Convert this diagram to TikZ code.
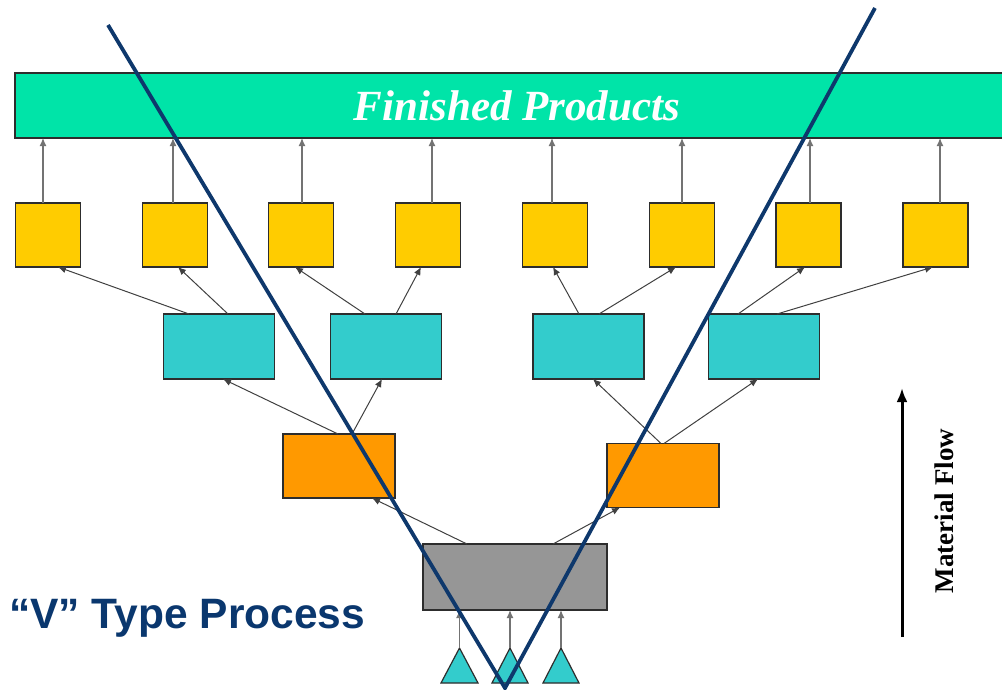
\documentclass[tikz,border=0pt]{standalone}
\usepackage{fontspec}
\setmainfont{Liberation Serif}
\newfontfamily\headsans{Liberation Sans}
\usetikzlibrary{arrows.meta}

\definecolor{barfill}{RGB}{0,228,168}
\definecolor{partyellow}{RGB}{255,204,0}
\definecolor{partcyan}{RGB}{51,204,204}
\definecolor{partorange}{RGB}{255,153,0}
\definecolor{partgray}{RGB}{150,150,150}
\definecolor{vnavy}{RGB}{14,56,108}
\definecolor{textnavy}{RGB}{10,55,110}
\definecolor{edge}{RGB}{45,45,45}

\tikzset{
  box/.style={draw=edge, line width=1.5pt, inner sep=0pt, outer sep=0pt},
  ybox/.style={box, fill=partyellow, minimum width=65, minimum height=64},
  cbox/.style={box, fill=partcyan, minimum width=111, minimum height=65},
  obox/.style={box, fill=partorange, minimum width=112, minimum height=64},
  gbox/.style={box, fill=partgray, minimum width=184, minimum height=66},
  tri/.style={draw=edge, line width=1.2pt, fill=partcyan, line join=miter},
  link/.style={draw=black!75, line width=1pt, -{Latex[length=8pt,width=7pt]}},
  feed/.style={draw=black!55, line width=1.2pt, -{Latex[length=8pt,width=7pt]}},
  vline/.style={draw=vnavy, line width=3.8pt},
}

\begin{document}
\begin{tikzpicture}[x=1pt, y=-1pt]
\useasboundingbox (0,0) rectangle (1002,689);
\clip (0,0) rectangle (1002,689);

% finished products bar
\node[box, fill=barfill, minimum width=1010, minimum height=65, anchor=north west] (bar) at (15,73) {};
\node[text=white, font=\fontsize{43}{48}\selectfont\bfseries\itshape] (title) at (517,106) {Finished Products};

% end items
\node[ybox] (y1) at (48,235) {};
\node[ybox] (y2) at (175,235) {};
\node[ybox] (y3) at (301,235) {};
\node[ybox] (y4) at (428,235) {};
\node[ybox] (y5) at (555,235) {};
\node[ybox] (y6) at (682,235) {};
\node[ybox] (y7) at (808.5,235) {};
\node[ybox] (y8) at (935.5,235) {};

% sub-assemblies
\node[cbox] (cA) at (219,346.5) {};
\node[cbox] (cB) at (386,346.5) {};
\node[cbox] (cC) at (588.5,346.5) {};
\node[cbox] (cD) at (764,346.5) {};

% intermediate parts
\node[obox] (oL) at (339,466) {};
\node[obox] (oR) at (663,475.5) {};

% common base part
\node[gbox] (g) at (515,577) {};

% raw materials
\draw[tri] (441,683) -- (459.5,648) -- (478,683) -- cycle;
\draw[tri] (492,683) -- (510,648) -- (528,683) -- cycle;
\draw[tri] (543,683) -- (561,648) -- (579,683) -- cycle;
\coordinate (t1) at (459.5,648);
\coordinate (t2) at (510,648);
\coordinate (t3) at (561,648);

% end items into finished products
\foreach \n/\dx in {y1/-5, y2/-2, y3/1, y4/4, y5/-3, y6/0, y7/1.5, y8/4.5}
  \draw[feed] ([xshift=\dx pt]\n.north) -- ([xshift=\dx pt]\n.north |- bar.south);

% sub-assemblies into end items
\draw[link] ([xshift=-30pt]cA.north) -- ([xshift=10pt]y1.south);
\draw[link] ([xshift=9pt]cA.north) -- ([xshift=3pt]y2.south);
\draw[link] ([xshift=-21pt]cB.north) -- ([xshift=-6pt]y3.south);
\draw[link] ([xshift=10pt]cB.north) -- ([xshift=-7pt]y4.south);
\draw[link] ([xshift=-9.5pt]cC.north) -- ([xshift=-2pt]y5.south);
\draw[link] ([xshift=10.5pt]cC.north) -- ([xshift=-6pt]y6.south);
\draw[link] ([xshift=-26pt]cD.north) -- ([xshift=-3.5pt]y7.south);
\draw[link] ([xshift=13pt]cD.north) -- ([xshift=-2.5pt]y8.south);

% intermediate parts into sub-assemblies
\draw[link] ([xshift=-1pt]oL.north) -- ([xshift=4pt]cA.south);
\draw[link] ([xshift=13pt]oL.north) -- ([xshift=-4pt]cB.south);
\draw[link] ([xshift=-2pt]oR.north) -- ([xshift=4.5pt]cC.south);
\draw[link] ([xshift=1pt]oR.north) -- ([xshift=-6pt]cD.south);

% base part into intermediate parts
\draw[link] ([xshift=-48pt]g.north) -- ([xshift=33pt]oL.south);
\draw[link] ([xshift=38pt]g.north) -- ([xshift=-43pt]oR.south);

% raw materials into base part
\draw[feed] (t1) -- (t1 |- g.south);
\draw[feed] (t2) -- (t2 |- g.south);
\draw[feed] (t3) -- (t3 |- g.south);

% the V
\coordinate (vl) at (108,25);
\coordinate (vb) at (505,688);
\coordinate (vr) at (875,8);
\draw[vline, line join=miter] (vl) -- (vb) -- (vr);

% labels
\node[anchor=base west, text=textnavy, font=\headsans\fontsize{42.5}{48}\selectfont\bfseries, inner sep=0pt] (vtype) at (9,628) {“V” Type Process};

\coordinate (flowtail) at (902,637);
\coordinate (flowhead) at (902,388);
\draw[line width=3pt, -{Latex[length=14pt,width=11pt]}] (flowtail) -- (flowhead);
\node[rotate=90, font=\fontsize{27}{32}\selectfont\bfseries] (flow) at (944,511) {Material Flow};
\end{tikzpicture}
\end{document}
